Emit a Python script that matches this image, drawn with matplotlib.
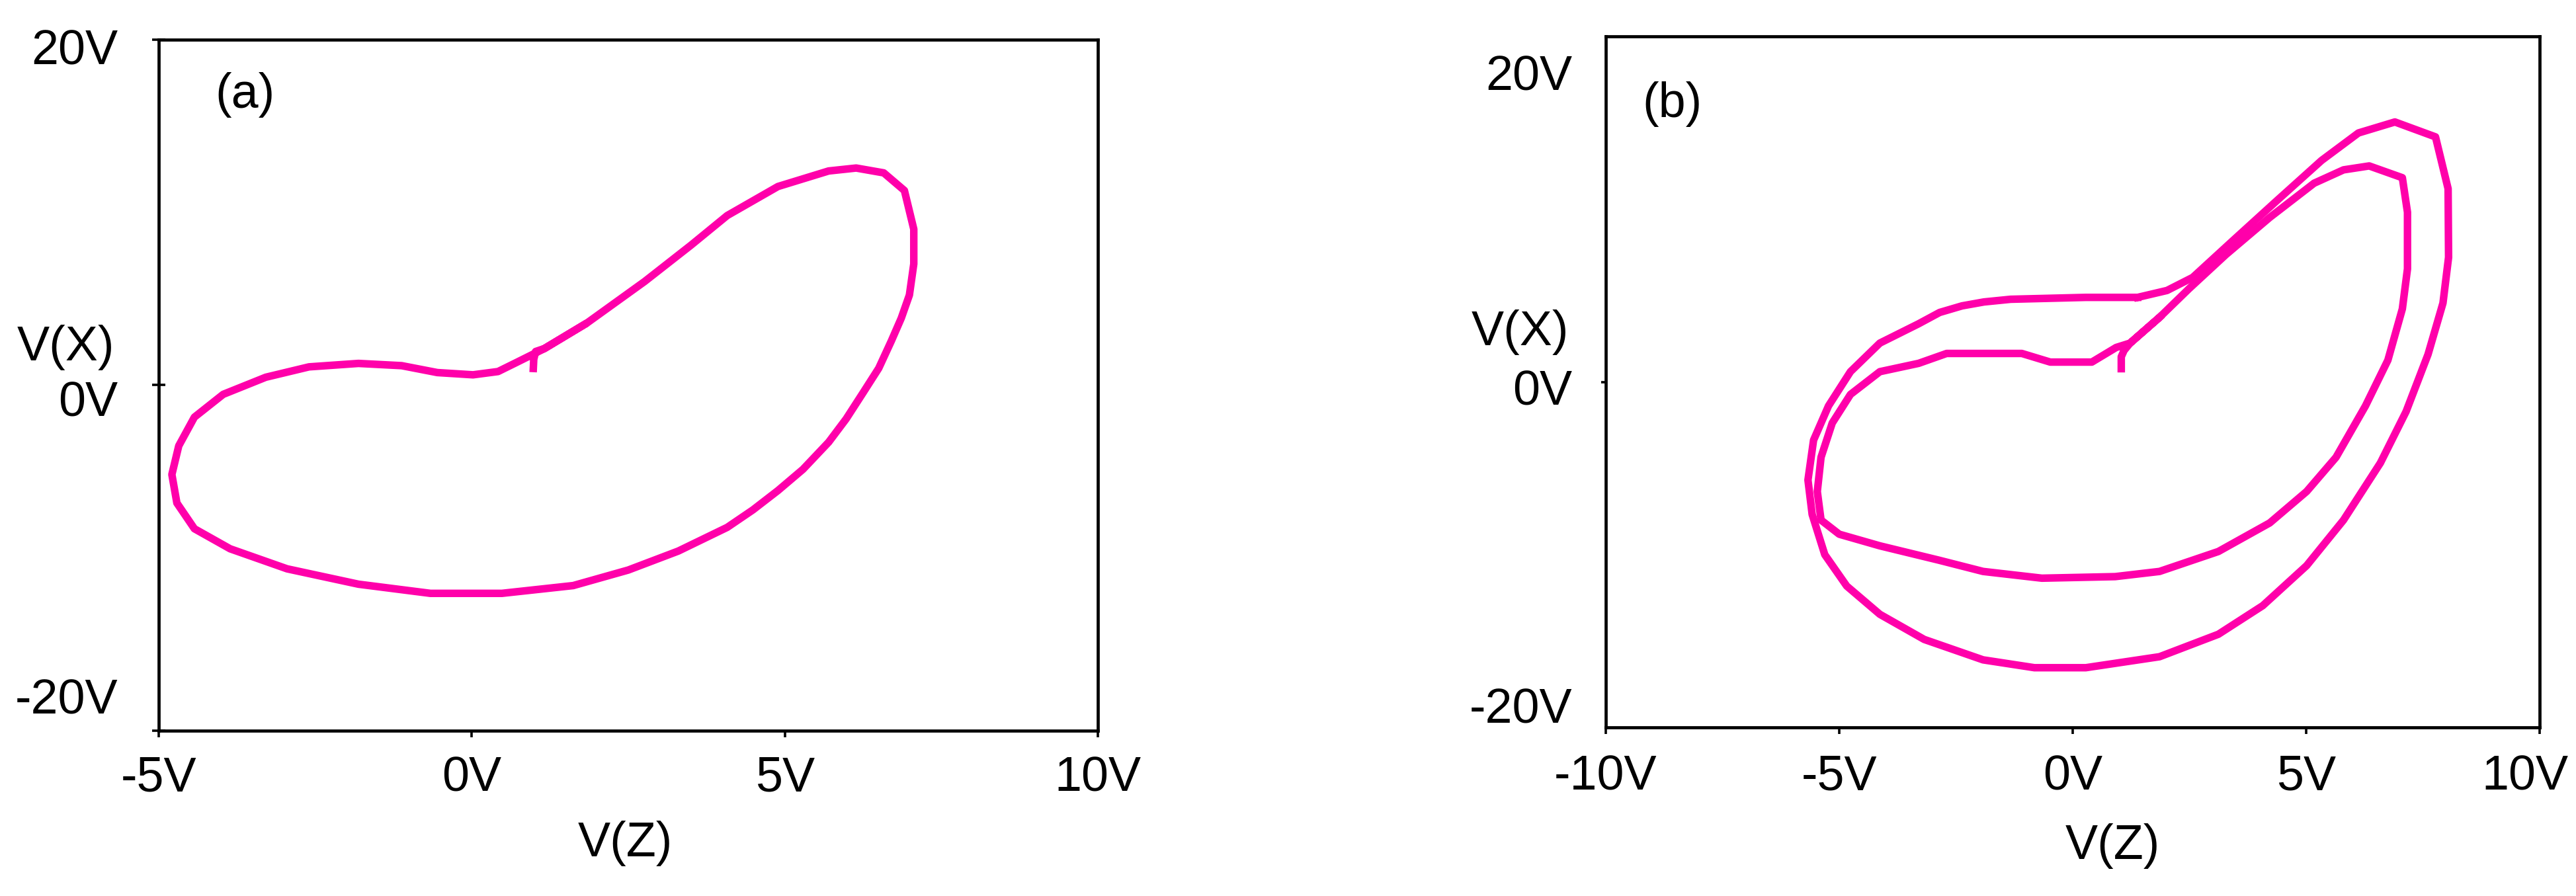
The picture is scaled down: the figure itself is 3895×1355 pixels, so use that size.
import matplotlib
matplotlib.use("Agg")
import matplotlib.pyplot as plt
from matplotlib.transforms import ScaledTranslation, blended_transform_factory

plt.rcParams['font.family'] = ['Liberation Sans', 'DejaVu Sans']

# ---------------- data ----------------
# panel (a): V(X) versus V(Z), single loop (starts with the short transient spike)
vz_a = [0.98, 0.99, 1.02, 1.16, 1.84, 2.76, 3.50, 4.08, 4.89, 5.70, 6.14, 6.58, 6.91,
        7.06, 7.06, 6.99, 6.86, 6.70, 6.50, 6.26, 5.98, 5.70, 5.29, 4.89, 4.49, 4.08,
        3.30, 2.50, 1.62, 0.48, -0.66, -1.81, -2.95, -3.86, -4.43, -4.71, -4.79, -4.68,
        -4.43, -3.97, -3.29, -2.60, -1.81, -1.12, -0.55, 0.02, 0.42, 0.70, 1.16, 1.84]
vx_a = [0.75, 1.50, 1.95, 2.12, 3.60, 6.00, 8.10, 9.82, 11.50, 12.40, 12.57, 12.29, 11.27,
        9.03, 7.02, 5.22, 3.88, 2.55, 0.98, -0.38, -1.95, -3.30, -4.87, -6.10, -7.22, -8.23,
        -9.60, -10.70, -11.60, -12.05, -12.05, -11.52, -10.63, -9.47, -8.31, -6.82, -5.17, -3.51,
        -1.85, -0.53, 0.46, 1.06, 1.26, 1.13, 0.73, 0.60, 0.79, 1.29, 2.12, 3.60]

# panel (b): period-2 orbit, inner loop (with transient spike) and outer loop
vz_b_inner = [1.04, 1.04, 1.10, 1.23, 1.86, 2.49, 3.28, 4.22, 5.17, 5.80, 6.35, 7.06, 7.17,
              7.17, 7.06, 6.75, 6.27, 5.64, 5.01, 4.22, 3.12, 1.86, 0.91, -0.66, -1.92, -2.87,
              -4.13, -5.00, -5.39, -5.47, -5.39, -5.15, -4.76, -4.13, -3.30, -2.70, -1.09,
              -0.48, 0.41, 0.93, 1.23, 1.86]
vx_b_inner = [0.84, 1.60, 2.00, 2.47, 4.11, 5.93, 8.10, 10.47, 12.65, 13.50, 13.75, 13.00, 10.80,
              7.20, 4.65, 1.38, -1.53, -4.80, -6.98, -8.98, -10.80, -12.07, -12.40, -12.50, -12.07,
              -11.35, -10.44, -9.70, -8.80, -6.98, -4.80, -2.62, -0.80, 0.65, 1.18, 1.81, 1.81,
              1.26, 1.26, 2.19, 2.47, 4.11]
vz_b_outer = [1.39, 2.02, 2.57, 3.44, 4.38, 5.33, 6.12, 6.90, 7.77, 8.04, 8.05, 7.93, 7.61,
              7.14, 6.59, 5.80, 5.01, 4.07, 3.12, 1.86, 0.28, -0.82, -1.92, -3.18, -4.13, -4.84,
              -5.31, -5.58, -5.67, -5.55, -5.23, -4.76, -4.13, -3.30, -2.85, -2.37, -1.90, -1.33,
              0.28, 1.39]
vx_b_outer = [5.38, 5.82, 6.65, 9.02, 11.56, 14.10, 15.85, 16.55, 15.60, 12.30, 7.93, 5.02, 1.75,
              -1.89, -5.16, -8.80, -11.70, -14.25, -16.07, -17.50, -18.20, -18.20, -17.70, -16.40,
              -14.80, -13.00, -11.00, -8.44, -6.25, -3.71, -1.53, 0.65, 2.47, 3.70, 4.42, 4.84,
              5.09, 5.26, 5.38, 5.38]

xticks_a = [-5, 0, 5, 10]
xticklabels_a = ['-5V', '0V', '5V', '10V']
yticks_a = [20, 0, -20]
yticklabels_a = ['20V', '0V', '-20V']

xticks_b = [-10, -5, 0, 5, 10]
xticklabels_b = ['-10V', '-5V', '0V', '5V', '10V']
yticks_b = [20, 0, -20]
yticklabels_b = ['20V', '0V', '-20V']

xlabel = 'V(Z)'
ylabel = 'V(X)'
panel_labels = ['(a)', '(b)']

# ---------------- style ----------------
W, H, DPI = 3895, 1355, 100
COLOR = '#ff00aa'
FS = 53
LW = 8.2

fig = plt.figure(figsize=(W / DPI, H / DPI), dpi=DPI)
fig.patch.set_facecolor('white')


def px_box(l, t, r, b):
    return [l / W, 1 - b / H, (r - l) / W, (b - t) / H]


axA = fig.add_axes(px_box(240, 60, 1660, 1105))
axB = fig.add_axes(px_box(2428, 55, 3840, 1100))


def style_axes(ax, xticks, xlabels, xpad):
    for s in ax.spines.values():
        s.set_linewidth(3.4)
        s.set_color('black')
    ax.set_xticks(xticks)
    ax.set_xticklabels(xlabels)
    ax.tick_params(axis='x', direction='out', length=7.5, width=2.6, pad=xpad,
                   labelsize=FS, colors='black')


def ylabels(ax, ticks, labels, xfrac, offsets_px):
    tr = blended_transform_factory(ax.transAxes, ax.transData)
    for v, lab, dy in zip(ticks, labels, offsets_px):
        t = tr + ScaledTranslation(0, -dy / DPI, fig.dpi_scale_trans)
        ax.text(xfrac, v, lab, transform=t, ha='right', va='baseline', fontsize=FS,
                clip_on=False)


# panel (a)
axA.plot(vz_a, vx_a, color=COLOR, lw=LW, solid_joinstyle='round', solid_capstyle='butt')
axA.set_xlim(-5, 10)
axA.set_ylim(-20, 20)
style_axes(axA, xticks_a, xticklabels_a, 19.5)
axA.set_yticks(yticks_a)
axA.tick_params(axis='y', direction='inout', length=15, width=2.6, labelleft=False)
ylabels(axA, yticks_a, yticklabels_a, -0.0437, [38, 47, -26])
axA.text(-0.0472, 0.536, ylabel, transform=axA.transAxes, ha='right', va='baseline',
         fontsize=FS)
axA.text(0.497, -0.1818, xlabel, transform=axA.transAxes, ha='center', va='baseline',
         fontsize=FS)
axA.text(0.0599, 0.9014, panel_labels[0], transform=axA.transAxes, ha='left',
         va='baseline', fontsize=FS)

# panel (b)
axB.plot(vz_b_outer, vx_b_outer, color=COLOR, lw=LW, solid_joinstyle='round')
axB.plot(vz_b_inner, vx_b_inner, color=COLOR, lw=LW, solid_joinstyle='round')
axB.set_xlim(-10, 10)
axB.set_ylim(-22, 22)
style_axes(axB, xticks_b, xticklabels_b, 21.5)
axB.set_yticks(yticks_b)
axB.tick_params(axis='y', direction='out', length=5, width=2.6, labelleft=False)
for tk, v in zip(axB.yaxis.get_major_ticks(), yticks_b):
    if v != 0:
        tk.tick1line.set_visible(False)
ylabels(axB, yticks_b, yticklabels_b, -0.0361, [34, 35, 41])
axB.text(-0.0397, 0.553, ylabel, transform=axB.transAxes, ha='right', va='baseline',
         fontsize=FS)
axB.text(0.543, -0.1904, xlabel, transform=axB.transAxes, ha='center', va='baseline',
         fontsize=FS)
axB.text(0.039, 0.883, panel_labels[1], transform=axB.transAxes, ha='left',
         va='baseline', fontsize=FS)

# keep the last x tick label of panel (b) inside the canvas, as in the reference
last = axB.get_xticklabels()[-1]
last.set_transform(last.get_transform() + ScaledTranslation(-0.22, 0, fig.dpi_scale_trans))

fig.savefig('out.png', dpi=DPI, facecolor='white')
